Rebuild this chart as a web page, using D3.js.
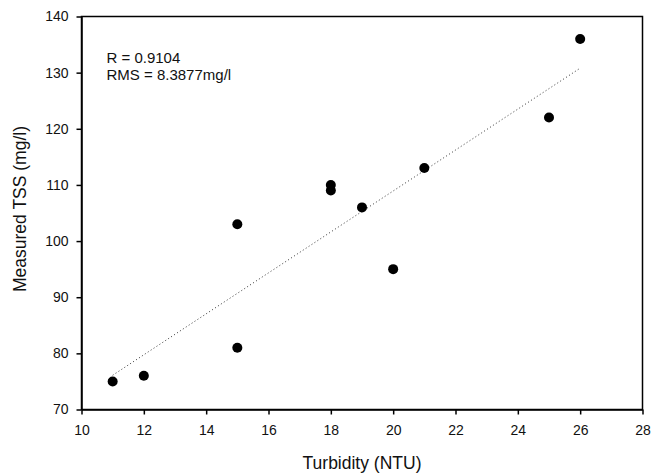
<!DOCTYPE html>
<html>
<head>
<meta charset="utf-8">
<script src="https://cdn.jsdelivr.net/npm/d3@7"></script>
<style>
  body { margin: 0; background: #fff; }
  svg { display: block; font-family: "Liberation Sans", Arial, sans-serif; }
</style>
</head>
<body>
<svg id="chart" width="652" height="475"></svg>
<script>
// data
const turbidity = [11, 12, 15, 15, 18, 18, 19, 20, 21, 25, 26];
const tss       = [75, 76, 81, 103, 110, 109, 106, 95, 113, 122, 136];
// fitted line end points
const fitX = [11, 26];
const fitY = [76.1, 130.8];
const xTicks = [10, 12, 14, 16, 18, 20, 22, 24, 26, 28];
const yTicks = [70, 80, 90, 100, 110, 120, 130, 140];
const notes = ["R = 0.9104", "RMS = 8.3877mg/l"];

const svg = d3.select("#chart");

const x = d3.scaleLinear().domain([10, 28]).range([81.5, 642.5]);
const y = d3.scaleLinear().domain([70, 140]).range([409.5, 16.5]);

// frame
svg.append("rect")
    .attr("x", x(10)).attr("y", y(140))
    .attr("width", x(28) - x(10)).attr("height", y(70) - y(140))
    .attr("fill", "none").attr("stroke", "#000").attr("stroke-width", 1.5);

const xAxis = svg.append("g")
    .attr("transform", `translate(0,${y(70)})`)
    .call(d3.axisBottom(x).tickValues(xTicks).tickSize(5).tickSizeOuter(0).tickPadding(11));

const yAxis = svg.append("g")
    .attr("transform", `translate(${x(10)},0)`)
    .call(d3.axisLeft(y).tickValues(yTicks).tickSize(5).tickSizeOuter(0).tickPadding(8));

[xAxis, yAxis].forEach(g => {
    g.select(".domain").attr("stroke-width", 1.5);
    g.selectAll(".tick line").attr("stroke-width", 1.5);
    g.selectAll(".tick text")
        .attr("font-family", "Liberation Sans, Arial, sans-serif")
        .attr("font-size", 14)
        .attr("fill", "#111");
});

// regression line (dotted)
svg.append("line")
    .attr("x1", x(fitX[0])).attr("y1", y(fitY[0]))
    .attr("x2", x(fitX[1])).attr("y2", y(fitY[1]))
    .attr("stroke", "#333")
    .attr("stroke-width", 1)
    .attr("stroke-dasharray", "1,2.5");

// points
svg.append("g").selectAll("circle")
    .data(turbidity.map((t, i) => [t, tss[i]]))
    .enter().append("circle")
    .attr("cx", d => x(d[0]))
    .attr("cy", d => y(d[1]))
    .attr("r", 5)
    .attr("fill", "#000");

// annotation
svg.append("g").selectAll("text")
    .data(notes)
    .enter().append("text")
    .attr("x", 106.5)
    .attr("y", (d, i) => 63 + i * 17)
    .attr("font-size", 15)
    .attr("fill", "#111")
    .text(d => d);

// axis titles
svg.append("text")
    .attr("x", 362).attr("y", 469)
    .attr("text-anchor", "middle")
    .attr("font-size", 17.5)
    .attr("fill", "#111")
    .text("Turbidity (NTU)");

svg.append("text")
    .attr("transform", "translate(25.5,209) rotate(-90)")
    .attr("text-anchor", "middle")
    .attr("font-size", 17.5)
    .attr("fill", "#111")
    .text("Measured TSS (mg/l)");
</script>
</body>
</html>
